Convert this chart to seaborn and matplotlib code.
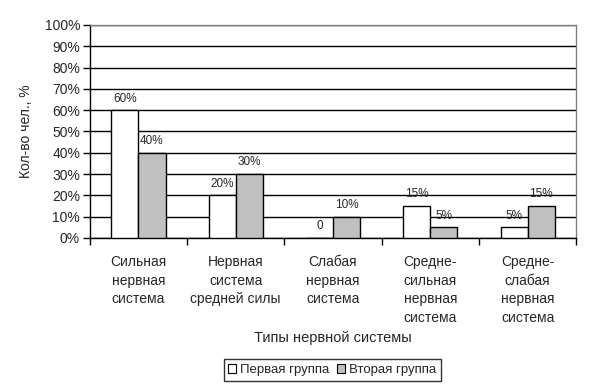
import matplotlib
matplotlib.use("Agg")
import matplotlib.pyplot as plt
import seaborn as sns
import pandas as pd
from matplotlib.ticker import FuncFormatter, MultipleLocator
from matplotlib.patches import Patch

categories = ["Сильная\nнервная\nсистема", "Нервная\nсистема\nсредней силы",
              "Слабая\nнервная\nсистема", "Средне-\nсильная\nнервная\nсистема",
              "Средне-\nслабая\nнервная\nсистема"]
series_names = ["Первая группа", "Вторая группа"]
group1 = [60, 20, 0, 15, 5]
group2 = [40, 30, 10, 5, 15]
labels1 = ["60%", "20%", "0", "15%", "5%"]
labels2 = ["40%", "30%", "10%", "5%", "15%"]
colors = ["#ffffff", "#c0c0c0"]

df = pd.DataFrame({
    "cat": categories * 2,
    "group": [series_names[0]] * 5 + [series_names[1]] * 5,
    "val": group1 + group2,
})

sns.set_style("white")
plt.rcParams["font.family"] = ["Liberation Sans", "DejaVu Sans"]

fig, ax = plt.subplots(figsize=(5.91, 3.9), dpi=100)
fig.subplots_adjust(left=0.152, right=0.975, top=0.936, bottom=0.39)

sns.barplot(data=df, x="cat", y="val", hue="group", palette=colors,
            edgecolor="black", linewidth=1, width=0.556, ax=ax,
            legend=False, zorder=3)

for cont, labs in zip(ax.containers, [labels1, labels2]):
    ax.bar_label(cont, labels=labs, padding=4, fontsize=8.5)

ax.set_ylim(0, 100)
ax.set_xlim(-0.5, 4.5)
ax.yaxis.set_major_locator(MultipleLocator(10))
ax.yaxis.set_major_formatter(FuncFormatter(lambda v, p: f"{int(round(v))}%"))
ax.grid(axis="y", color="black", linewidth=1, zorder=0)
ax.set_axisbelow(True)

ax.tick_params(axis="y", direction="out", length=5, width=1, color="black",
               labelsize=10, pad=2, left=True)
ax.tick_params(axis="x", which="major", length=0, labelsize=10, pad=12)
ax.set_xticks(range(5))
ax.set_xticklabels(categories, linespacing=1.45)
ax.set_xticks([-0.5, 0.5, 1.5, 2.5, 3.5, 4.5], minor=True)
ax.tick_params(axis="x", which="minor", direction="out", length=5, width=1,
               color="black", bottom=True)

for s in ["top", "right"]:
    ax.spines[s].set_color("#808080")
    ax.spines[s].set_linewidth(1)
for s in ["left", "bottom"]:
    ax.spines[s].set_color("black")
    ax.spines[s].set_linewidth(1)

ax.set_ylabel("Кол-во чел., %", fontsize=10)
ax.set_xlabel("Типы нервной системы", fontsize=10.5)
ax.yaxis.set_label_coords(-0.117, 0.5)
ax.xaxis.set_label_coords(0.5, -0.437)

handles = [Patch(facecolor=c, edgecolor="black", linewidth=0.8) for c in colors]
leg = fig.legend(handles, series_names, loc="center", bbox_to_anchor=(0.562, 0.051),
                 ncol=2, frameon=True, fancybox=False, edgecolor="black",
                 fontsize=9.5, handlelength=0.6, handleheight=0.6,
                 handletextpad=0.3, columnspacing=0.6, borderpad=0.35,
                 borderaxespad=0)
leg.get_frame().set_linewidth(1)

fig.savefig("out.png", dpi=100)
